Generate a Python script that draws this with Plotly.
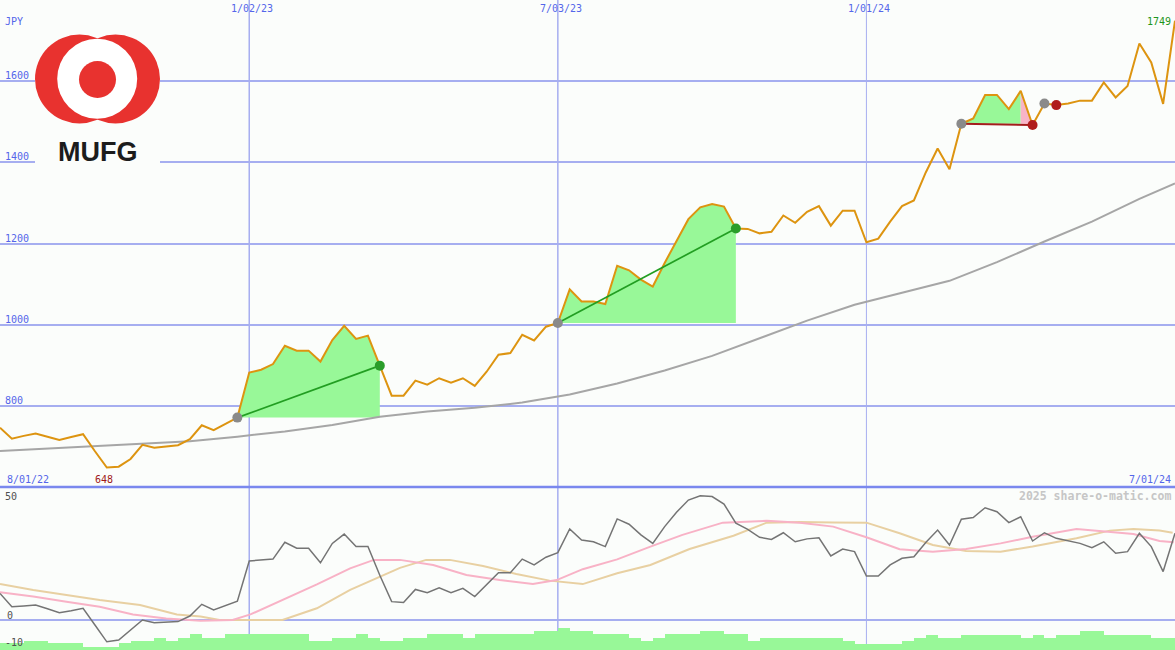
import pandas as pd
import plotly.graph_objects as go

# ---------------- data ----------------
start_date = pd.Timestamp("2022-08-08")
n_weeks = 100

price = [746, 719, 726, 732, 724, 716, 723, 730, 688, 648,
         650, 669, 704, 697, 700, 703, 718, 752, 740, 755,
         771, 882, 889, 903, 948, 936, 936, 909, 962, 997,
         965, 973, 899, 825, 825, 862, 852, 868, 857, 868,
         849, 884, 926, 930, 975, 961, 995, 1004, 1087, 1057,
         1057, 1051, 1145, 1134, 1111, 1094, 1152, 1205, 1260, 1289,
         1297, 1291, 1237, 1236, 1225, 1229, 1269, 1251, 1278, 1292,
         1244, 1281, 1281, 1203, 1212, 1254, 1292, 1306, 1375, 1434,
         1383, 1495, 1508, 1566, 1566, 1531, 1576, 1492, 1545, 1541,
         1545, 1552, 1552, 1597, 1560, 1588, 1693, 1646, 1544, 1749]

# long moving average (price panel), sampled at week indices
ma_long_week = [0, 4, 8, 12, 16, 20, 24, 28, 32, 36, 40, 44, 48, 52, 56, 60,
                64, 68, 72, 76, 80, 84, 88, 92, 96, 99]
ma_long_val = [689, 695, 701, 708, 713, 724, 737, 753, 773, 786, 795, 808, 828,
               855, 887, 923, 967, 1010, 1049, 1079, 1108, 1154, 1205, 1254, 1310, 1348]

# oscillator (lower panel)
osc = [10.0, 5.0, 5.3, 5.6, 4.2, 2.7, 3.5, 4.4, -1.9, -8.2,
       -7.5, -3.8, 0.0, -1.0, -0.8, -0.6, 1.5, 5.9, 3.8, 5.5,
       7.1, 22.2, 22.5, 22.9, 29.2, 27.0, 27.0, 21.5, 28.8, 32.3,
       27.6, 27.6, 16.8, 6.9, 6.6, 11.5, 10.3, 12.1, 10.3, 11.9,
       8.8, 13.3, 17.8, 17.8, 22.9, 20.7, 23.6, 25.3, 34.2, 30.1,
       29.4, 27.6, 38.0, 36.0, 32.0, 28.8, 35.1, 40.5, 45.1, 46.7,
       46.4, 43.6, 36.4, 34.1, 31.1, 30.3, 32.8, 29.4, 30.5, 30.9,
       24.1, 26.7, 25.7, 16.5, 16.5, 20.7, 23.2, 23.8, 29.1, 33.8,
       28.2, 37.9, 38.5, 42.2, 40.7, 36.6, 38.8, 29.7, 32.8, 30.7,
       29.7, 28.8, 27.2, 29.4, 25.1, 25.7, 32.6, 27.6, 18.2, 32.6]

pink_week = [0, 2.8, 5.6, 8.4, 11.2, 14.0, 16.9, 19.6, 21.1, 23.8, 26.7, 29.5, 31.5,
             33.7, 36.5, 39.3, 42.1, 44.9, 46.9, 49.1, 52.0, 54.8, 57.5, 60.9, 64.6,
             67.4, 70.2, 73.0, 75.8, 78.6, 81.4, 84.3, 87.0, 90.7, 93.2, 95.5, 97.7, 98.9]
pink_val = [10.4, 8.8, 6.9, 5.0, 2.1, 0.6, -0.3, 0, 2.1, 7.5, 13.4, 19.4, 22.6,
            22.6, 20.7, 16.9, 15.0, 13.5, 15.0, 19.1, 22.8, 27.6, 32.0, 36.6, 37.3,
            36.6, 35.1, 31.1, 26.6, 25.7, 26.7, 28.8, 31.3, 34.2, 33.2, 32.3, 29.7, 29.2]

tan_week = [0, 2.8, 5.6, 8.4, 11.8, 14.9, 16.9, 18.5, 23.8, 26.7, 29.5, 33.7, 35.9,
            37.9, 40.7, 43.5, 46.3, 49.1, 52.0, 54.8, 58.1, 61.8, 64.6, 67.4, 70.2,
            73.0, 75.8, 78.6, 81.4, 84.3, 87.0, 90.7, 93.5, 95.5, 97.7, 98.8]
tan_val = [13.5, 11.3, 9.4, 7.5, 5.6, 2.1, 1.3, 0, 0, 4.4, 11.3, 19.6, 22.6,
           22.6, 20.3, 17.3, 14.8, 13.5, 17.6, 20.7, 26.7, 31.7, 36.6, 36.8, 36.7,
           36.6, 32.6, 28.2, 25.9, 25.7, 27.6, 30.7, 33.6, 34.2, 33.6, 32.8]

# relative weekly volume
volume = [6.7, 6.7, 9, 9, 6.7, 6.7, 6.7, 3.3, 3.3, 3.3,
          6.7, 9, 9, 12.3, 9, 12.3, 15.7, 12.3, 12.3, 15.7,
          15.7, 15.7, 15.7, 15.7, 15.7, 15.7, 9, 9, 12.3, 12.3,
          15.7, 12.3, 9, 9, 12.3, 12.3, 15.7, 15.7, 15.7, 12.3,
          15.7, 15.7, 15.7, 15.7, 15.7, 19, 19, 22.3, 19, 19,
          15.7, 15.7, 15.7, 12.3, 9, 12.3, 15.7, 15.7, 15.7, 19,
          19, 15.7, 15.7, 9, 12.3, 12.3, 12.3, 12.3, 12.3, 12.3,
          12.3, 9, 6, 6, 6, 6, 9, 12.3, 15, 12.3,
          12.3, 15, 15, 15, 15, 15, 12.3, 15, 12.3, 15,
          15, 19, 19, 15, 15, 15, 15, 12.3, 12.3, 12.3]

# trades: (entry week, exit week, result)
trades = [(20, 32, "win"), (47, 62, "win"), (81, 87, "loss"), (88, 89, "loss")]
peak_split = 86  # week where the last shaded trade turns pink

price_ticks = [800, 1000, 1200, 1400, 1600]
grid_dates = ["2023-01-02", "2023-07-03", "2024-01-01"]
grid_labels = ["1/02/23", "7/03/23", "1/01/24"]
first_label, last_label = "8/01/22", "7/01/24"
low_label, last_price_label = "648", "1749"
low_week = 9

# ---------------- helpers ----------------
W, H = 1175, 650
BG = "#fbfdfb"


def wdate(w):
    return (start_date + pd.Timedelta(days=7 * w)).strftime("%Y-%m-%d %H:%M:%S")


dates = [wdate(i) for i in range(n_weeks)]


def px(x):
    return x / W


def py(y):
    return 1 - y / H


fig = go.Figure()

GREEN_FILL = "#98f898"
PINK_FILL = "#f8b4c8"

# shaded trade regions
for s, e, res in trades:
    base = price[s]
    if s == 81:
        segs = [(s, peak_split, GREEN_FILL), (peak_split, e, PINK_FILL)]
    elif e - s <= 1:
        segs = []
    else:
        segs = [(s, e, GREEN_FILL)]
    for a, b, col in segs:
        xs = dates[a:b + 1]
        fig.add_trace(go.Scatter(x=xs, y=[base] * len(xs), mode="lines",
                                 line=dict(width=0), hoverinfo="skip",
                                 xaxis="x", yaxis="y"))
        fig.add_trace(go.Scatter(x=xs, y=price[a:b + 1], mode="lines",
                                 line=dict(width=0), fill="tonexty",
                                 fillcolor=col, hoverinfo="skip",
                                 xaxis="x", yaxis="y"))

# long moving average
fig.add_trace(go.Scatter(x=[wdate(w) for w in ma_long_week], y=ma_long_val,
                         mode="lines", line=dict(color="#a6a6a6", width=2),
                         xaxis="x", yaxis="y"))

# price
fig.add_trace(go.Scatter(x=dates, y=price, mode="lines",
                         line=dict(color="#dd9410", width=2),
                         xaxis="x", yaxis="y"))

# trade lines & markers
for s, e, res in trades:
    col = "#229e22" if res == "win" else "#a41c1c"
    if e - s > 1:
        fig.add_trace(go.Scatter(x=[dates[s], dates[e]], y=[price[s], price[e]],
                                 mode="lines", line=dict(color=col, width=1.7 if res == "win" else 2),
                                 xaxis="x", yaxis="y"))
for s, e, res in trades:
    col = "#2a9d2a" if res == "win" else "#b01c1c"
    fig.add_trace(go.Scatter(x=[dates[s]], y=[price[s]], mode="markers",
                             marker=dict(color="#8a8a8a", size=10),
                             xaxis="x", yaxis="y"))
    fig.add_trace(go.Scatter(x=[dates[e]], y=[price[e]], mode="markers",
                             marker=dict(color=col, size=10),
                             xaxis="x", yaxis="y"))

# volume (lower panel, own scale)
fig.add_trace(go.Bar(x=[wdate(i + 0.5) for i in range(n_weeks)], y=volume,
                     width=7.05 * 86400000, marker=dict(color=GREEN_FILL, line=dict(width=0)),
                     xaxis="x", yaxis="y3"))

# oscillator lines
fig.add_trace(go.Scatter(x=[wdate(w) for w in tan_week], y=tan_val, mode="lines",
                         line=dict(color="#e8d0a2", width=2), xaxis="x", yaxis="y2"))
fig.add_trace(go.Scatter(x=[wdate(w) for w in pink_week], y=pink_val, mode="lines",
                         line=dict(color="#f8b2c6", width=2), xaxis="x", yaxis="y2"))
fig.add_trace(go.Scatter(x=dates, y=osc, mode="lines",
                         line=dict(color="#747474", width=1.5), xaxis="x", yaxis="y2"))

split = 163 / H
GRID = "#a6aef0"

fig.update_layout(
    width=W, height=H, autosize=False,
    margin=dict(l=0, r=0, t=0, b=0, pad=0),
    paper_bgcolor=BG, plot_bgcolor=BG,
    showlegend=False, bargap=0, hovermode=False,
    xaxis=dict(type="date", range=[dates[0], dates[-1]], showgrid=False,
               showticklabels=False, zeroline=False, showline=False,
               anchor="y2", domain=[0, 1]),
    yaxis=dict(domain=[split, 1], range=[600, 1800], tickvals=price_ticks,
               showticklabels=False, gridcolor=GRID, gridwidth=2,
               zeroline=False, showline=False),
    yaxis2=dict(domain=[0, split], range=[-11.28, 50], tickvals=[0],
                showticklabels=False, gridcolor=GRID, gridwidth=2,
                zeroline=False, showline=False),
    yaxis3=dict(overlaying="y2", range=[0, 163], visible=False),
)

shapes = []
for i, d in enumerate(grid_dates):
    shapes.append(dict(type="line", xref="x", yref="paper", x0=d, x1=d, y0=0, y1=1,
                       line=dict(color="#a6aef0", width=1.5 if i < 2 else 1), layer="below"))
shapes.append(dict(type="line", xref="paper", yref="paper", x0=0, x1=1,
                   y0=py(487), y1=py(487), line=dict(color="#7a88ee", width=2.5), layer="above"))
# logo
RED = "#e8322f"
shapes.append(dict(type="rect", xref="paper", yref="paper", x0=px(35), x1=px(160),
                   y0=py(167), y1=py(30), fillcolor=BG, line=dict(width=0), layer="above"))


def circ(cx, cy, r, col):
    return dict(type="circle", xref="paper", yref="paper",
                x0=px(cx - r), x1=px(cx + r), y0=py(cy + r), y1=py(cy - r),
                fillcolor=col, line=dict(width=0), layer="above")


shapes += [circ(79.5, 79, 44.5, RED), circ(115.5, 79, 44.5, RED),
           circ(97.2, 78.8, 40, "white"), circ(97.5, 79.5, 18.5, RED)]
fig.update_layout(shapes=shapes)

BLUE = "#5466ea"
MONO = "DejaVu Sans Mono"
ann = []


def label(text, x, yc, col=BLUE, anchor="left", size=10, bold=False, family=MONO, xref="paper", xs=0):
    ann.append(dict(text=("<b>%s</b>" % text) if bold else text, x=x, y=py(yc),
                    xref=xref, yref="paper", xanchor=anchor, yanchor="middle",
                    showarrow=False, xshift=xs,
                    font=dict(family=family, size=size, color=col), borderpad=0))


label("JPY", px(4), 21.5)
for v in price_ticks:
    yline = 81 + (1600 - v) * 0.40625
    label(str(v), px(4), yline - 5.5)
for d, t in zip(grid_dates, grid_labels):
    label(t, d, 9, anchor="center", xref="x", xs=3)
label(first_label, px(6), 479)
label(last_label, px(1172), 479, anchor="right")
label(low_label, dates[low_week], 479, col="#a01818", anchor="center", xref="x", xs=-3)
label(last_price_label, px(1172), 21.5, col="#1e961e", anchor="right")
label("50", px(4), 496, col="#505050")
label("0", px(6), 615, col="#505050")
label("-10", px(4), 642.5, col="#505050")
label("2025 share-o-matic.com", px(1172), 496, col="#c6c6c6", anchor="right", size=11.5, bold=True)
label("MUFG", px(97.5), 152, col="#1c1c1c", anchor="center", size=27, bold=True, family="Liberation Sans")
fig.update_layout(annotations=ann)

fig.write_html("out.html", config={"displayModeBar": False, "staticPlot": True},
               post_script="document.body.style.margin='0px';document.body.style.padding='0px';document.body.style.overflow='hidden';")
